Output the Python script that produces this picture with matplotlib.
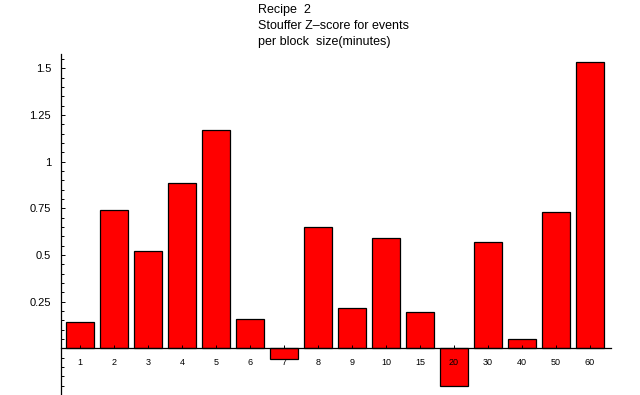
import matplotlib
matplotlib.use("Agg")
import matplotlib.pyplot as plt
from matplotlib.ticker import MultipleLocator, FixedLocator
import numpy as np

plt.rcParams['font.family'] = ['Liberation Sans', 'DejaVu Sans']

categories = ["1", "2", "3", "4", "5", "6", "7", "8", "9", "10", "15", "20", "30", "40", "50", "60"]
values = [0.143, 0.739, 0.520, 0.884, 1.168, 0.155, -0.059, 0.648, 0.214, 0.589,
          0.193, -0.204, 0.568, 0.048, 0.728, 1.532]
y_major = [0.25, 0.5, 0.75, 1.0, 1.25, 1.5]
y_labels = ["0.25", "0.5", "0.75", "1", "1.25", "1.5"]
title_text = "Recipe  2\nStouffer Z\u2013score for events\nper block  size(minutes)"

fig = plt.figure(figsize=(6.4, 3.95), dpi=100)
ax = fig.add_axes([60.7 / 640, 0.0, 550 / 640, 1 - 54 / 395])
ax.set_axisbelow(False)

x = np.arange(len(categories))
ax.bar(x, values, width=0.82, color="#FF0000", edgecolor="black", linewidth=0.9, zorder=2)

ax.set_xlim(-0.57, 15.61)
ax.set_ylim(-0.25, 1.576)

for s in ["top", "right"]:
    ax.spines[s].set_visible(False)
ax.spines["bottom"].set_position(("data", 0))
ax.spines["left"].set_linewidth(0.9)
ax.spines["bottom"].set_linewidth(0.9)
ax.spines["bottom"].set_zorder(3)

ax.set_xticks(x)
ax.set_xticklabels(categories, fontsize=6.5)
ax.tick_params(axis="x", direction="in", length=2.5, width=0.7, pad=7)

ax.yaxis.set_major_locator(FixedLocator(y_major))
ax.set_yticklabels(y_labels, fontsize=8)
ax.yaxis.set_minor_locator(MultipleLocator(0.05))
ax.tick_params(axis="y", which="major", direction="in", length=3.2, width=0.7, pad=7)
ax.tick_params(axis="y", which="minor", direction="in", length=2, width=0.7)

fig.text(258.3 / 640, 1 - 4.5 / 395, title_text, ha="left", va="top", fontsize=9, linespacing=1.42)

fig.savefig("out.png", dpi=100)
